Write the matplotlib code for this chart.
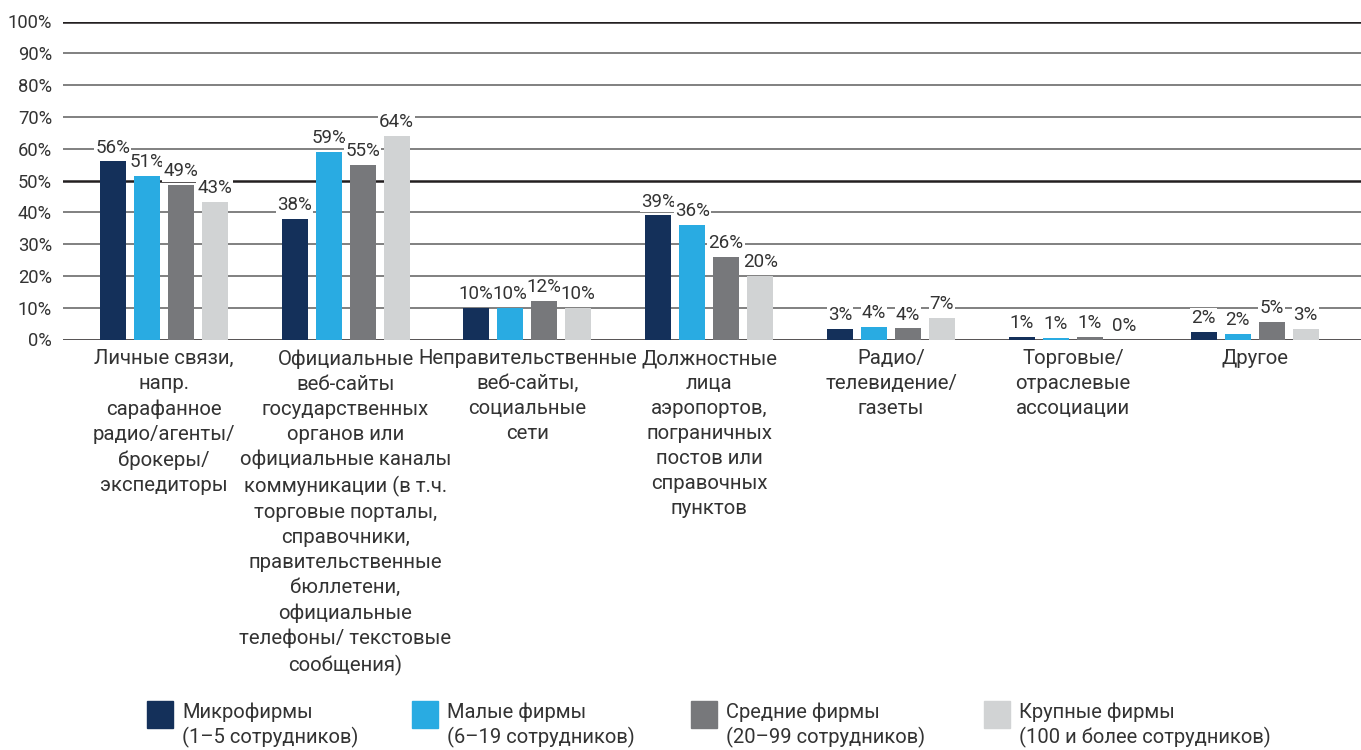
import matplotlib
matplotlib.use("Agg")
import matplotlib.pyplot as plt
import numpy as np
from matplotlib.patches import Rectangle

categories = [
    "Личные связи,\nнапр.\nсарафанное\nрадио/агенты/\nброкеры/\nэкспедиторы",
    "Официальные\nвеб-сайты\nгосударственных\nорганов или\nофициальные каналы\nкоммуникации (в т.ч.\nторговые порталы,\nсправочники,\nправительственные\nбюллетени,\nофициальные\nтелефоны/ текстовые\nсообщения)",
    "Неправительственные\nвеб-сайты,\nсоциальные\nсети",
    "Должностные\nлица\nаэропортов,\nпограничных\nпостов или\nсправочных\nпунктов",
    "Радио/\nтелевидение/\nгазеты",
    "Торговые/\nотраслевые\nассоциации",
    "Другое",
]

series_names = [
    "Микрофирмы\n(1–5 сотрудников)",
    "Малые фирмы\n(6–19 сотрудников)",
    "Средние фирмы\n(20–99 сотрудников)",
    "Крупные фирмы\n(100 и более сотрудников)",
]

micro = [56, 38, 10, 39, 3.3, 0.7, 2.4]
small = [51.5, 59, 10, 36, 4.0, 0.6, 1.8]
medium = [48.5, 55, 12, 26, 3.5, 0.8, 5.4]
large = [43.3, 64, 10, 20, 6.8, 0.0, 3.2]

labels_micro = ["56%", "38%", "10%", "39%", "3%", "1%", "2%"]
labels_small = ["51%", "59%", "10%", "36%", "4%", "1%", "2%"]
labels_medium = ["49%", "55%", "12%", "26%", "4%", "1%", "5%"]
labels_large = ["43%", "64%", "10%", "20%", "7%", "0%", "3%"]

yticks = [0, 10, 20, 30, 40, 50, 60, 70, 80, 90, 100]

colors = ["#14305A", "#29ABE2", "#77787B", "#D1D3D4"]
text_color = "#333333"
font = ["Roboto", "DejaVu Sans"]
plt.rcParams["font.family"] = font

W, H = 1361, 750
fig = plt.figure(figsize=(W / 100, H / 100), dpi=100)
ax = fig.add_axes([63 / W, 1 - 339.5 / H, 1 - 63 / W, (339.5 - 21.5) / H])

x = np.arange(len(categories))
step = 0.187
width = 0.143
all_vals = [micro, small, medium, large]
all_labels = [labels_micro, labels_small, labels_medium, labels_large]

# gridlines
for t in yticks:
    if t in (0, 50, 100):
        ax.axhline(t, color="#231F20", lw=1.8, zorder=0)
    else:
        ax.axhline(t, color="#808080", lw=1.4, zorder=0)

for i, (vals, labs) in enumerate(zip(all_vals, all_labels)):
    pos = x + (i - 1.5) * step
    ax.bar(pos, vals, width=width, color=colors[i], zorder=2)
    for p, v, l in zip(pos, vals, labs):
        ax.annotate(l, (p, v), xytext=(0, 3.5), textcoords="offset points",
                    ha="center", va="bottom", fontsize=13.5, color=text_color,
                    bbox=dict(boxstyle="square,pad=0.06", fc="white", ec="none"),
                    zorder=3)

ax.set_xlim(-0.554, 6.585)
ax.set_ylim(0, 100)
ax.set_yticks(yticks)
ax.set_yticklabels([f"{t}%" for t in yticks], fontsize=13.2, color=text_color)
ax.set_xticks(x)
ax.set_xticklabels(categories, fontsize=14.7, color=text_color, linespacing=1.4,
                   ha="center", va="top")
ax.tick_params(axis="both", length=0)
ax.tick_params(axis="y", pad=8)
ax.tick_params(axis="x", pad=7)
for s in ax.spines.values():
    s.set_visible(False)

# legend
leg_x = [147, 412, 691, 984]
for i, name in enumerate(series_names):
    lx = leg_x[i]
    fig.patches.append(Rectangle((lx / W, 1 - 728 / H), 26 / W, 27 / H,
                                 transform=fig.transFigure, color=colors[i]))
    fig.text((lx + 35) / W, 1 - 703 / H, name, ha="left", va="top",
             fontsize=14.5, color=text_color, linespacing=1.25)

fig.savefig("out.png", dpi=100)
